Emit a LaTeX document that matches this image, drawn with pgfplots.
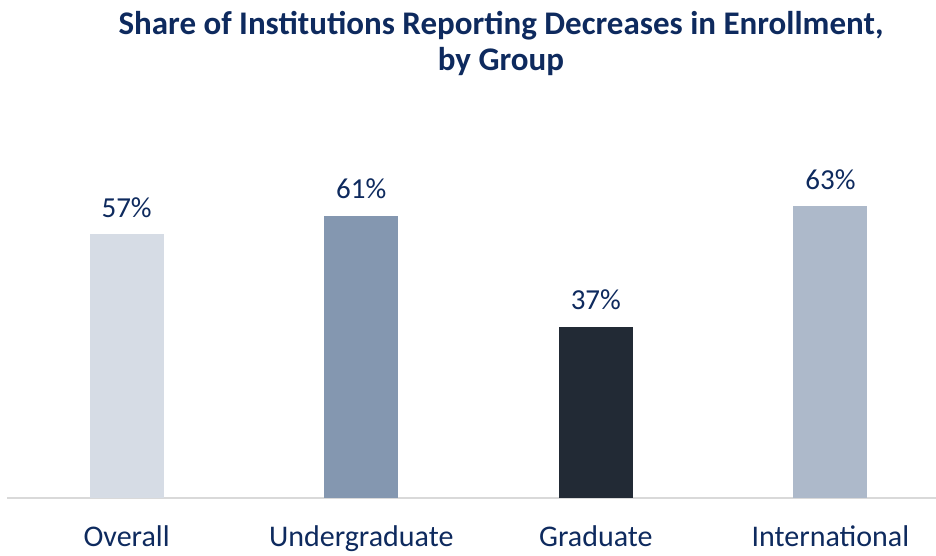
\documentclass[border=0pt]{standalone}
\usepackage{pgfplots}
\pgfplotsset{compat=1.18}
\usepackage{fontspec}
\setmainfont{Carlito}
\definecolor{navy}{HTML}{0E2A5E}
\definecolor{cA}{HTML}{D6DCE5}
\definecolor{cB}{HTML}{8497B0}
\definecolor{cC}{HTML}{222A35}
\definecolor{cD}{HTML}{ADB9CA}
\begin{document}
\begin{tikzpicture}[x=1pt,y=1pt]
\path[use as bounding box] (0,0) rectangle (936,556);
\node[font=\fontsize{33}{36}\selectfont\bfseries, text=navy, align=center] at (501,512) {Share of Institutions Reporting Decreases in Enrollment,\\by Group};
\begin{axis}[
  at={(7pt,58pt)}, anchor=south west,
  scale only axis, width=929pt, height=398pt,
  xmin=-0.51, xmax=3.45, ymin=0, ymax=86,
  axis x line*=bottom, axis y line=none,
  x axis line style={draw=black!15, line width=1.5pt},
  xtick={0,1,2,3}, xticklabels={Overall,Undergraduate,Graduate,International},
  major tick length=0pt,
  ticklabel style={font=\fontsize{30}{36}\selectfont, text=navy},
  xticklabel style={yshift=-24pt},
  ybar, bar width=74pt, bar shift=0pt,
  /pgf/number format/assume math mode=true,
  nodes near coords={\pgfmathprintnumber{\pgfplotspointmeta}\%},
  every node near coord/.append style={font=\fontsize{29}{34}\selectfont, text=navy, yshift=13pt},
  clip=false,
]
\addplot[fill=cA, draw=none] coordinates {(0,57)};
\addplot[fill=cB, draw=none] coordinates {(1,61)};
\addplot[fill=cC, draw=none] coordinates {(2,37)};
\addplot[fill=cD, draw=none] coordinates {(3,63)};
\end{axis}
\end{tikzpicture}
\end{document}
